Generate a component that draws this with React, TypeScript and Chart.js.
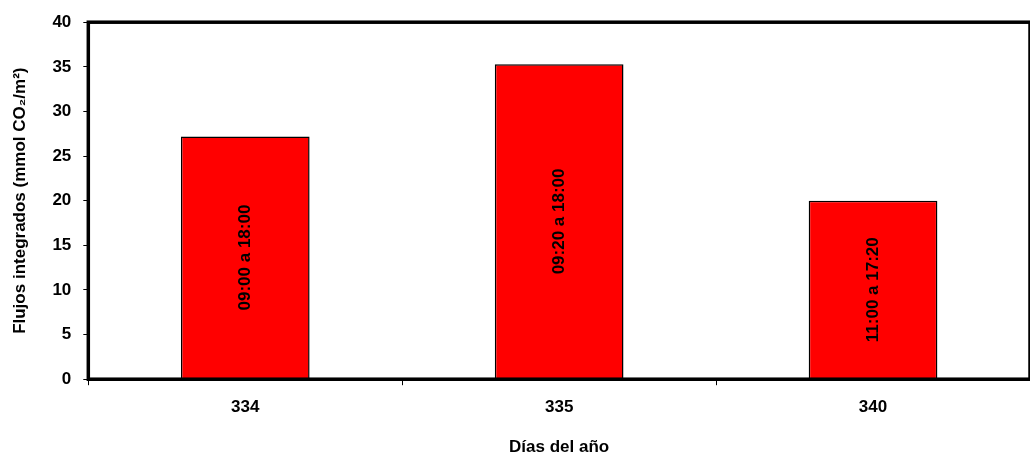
import React, { useEffect, useRef } from "react";
import { Chart, registerables } from "chart.js";
Chart.register(...registerables);

const categories = ["334", "335", "340"];
const values = [27.2, 35.3, 20.0];
const barLabels = ["09:00 a 18:00", "09:20 a 18:00", "11:00 a 17:20"];

const labelPlugin = {
  id: "inbar",
  afterDatasetsDraw(chart: any) {
    const ctx = chart.ctx;
    const meta = chart.getDatasetMeta(0);
    meta.data.forEach((bar: any, i: number) => {
      const cy = (bar.y + bar.base) / 2;
      ctx.save();
      ctx.translate(bar.x, cy);
      ctx.rotate(-Math.PI / 2);
      ctx.font = "bold 17px Arial, 'Liberation Sans'";
      ctx.fillStyle = "#000";
      ctx.textAlign = "center";
      ctx.textBaseline = "middle";
      ctx.fillText(barLabels[i], 0, 0);
      ctx.restore();
    });
  },
};

const frame = {
  id: "frame",
  afterDraw(chart: any) {
    const { ctx, chartArea: a } = chart;
    ctx.save();
    ctx.strokeStyle = "#000";
    ctx.lineWidth = 3.5;
    ctx.strokeRect(a.left, a.top, a.right - a.left, a.bottom - a.top);
    ctx.restore();
  },
};

const F = "Arial, 'Liberation Sans'";

export default function App() {
  const ref = useRef<HTMLCanvasElement>(null);
  useEffect(() => {
    document.body.style.margin = "0";
    const c = new Chart(ref.current!, {
      type: "bar",
      data: {
        labels: categories,
        datasets: [{
          data: values,
          backgroundColor: "#ff0000",
          borderColor: "#000",
          borderWidth: 1.5,
          barPercentage: 0.41,
          categoryPercentage: 1,
        }],
      },
      options: {
        animation: false,
        responsive: false,
        layout: { padding: { top: 9, right: 0, bottom: 2, left: 10 } },
        plugins: { legend: { display: false }, tooltip: { enabled: false } },
        scales: {
          x: {
            grid: { display: true, drawOnChartArea: false, offset: true, tickLength: 6, color: "#000" },
            border: { color: "#000", width: 3 },
            ticks: { color: "#000", font: { family: F, weight: "bold", size: 17 }, padding: 12 },
            title: { display: true, text: "Días del año", color: "#000", font: { family: F, weight: "bold", size: 17 }, padding: { top: 8, bottom: 0 } },
          },
          y: {
            min: 0, max: 40,
            ticks: { stepSize: 5, color: "#000", font: { family: F, weight: "bold", size: 17 }, padding: 12 },
            grid: { drawOnChartArea: false, tickLength: 5, color: "#000" },
            border: { color: "#000", width: 3 },
            title: { display: true, text: "Flujos integrados (mmol CO₂/m²)", color: "#000", font: { family: F, weight: "bold", size: 17 }, padding: { bottom: 10, top: 0 } },
          },
        },
      },
      plugins: [labelPlugin, frame],
    });
    return () => c.destroy();
  }, []);
  return <canvas ref={ref} width={1030} height={460} style={{ display: "block" }} />;
}
